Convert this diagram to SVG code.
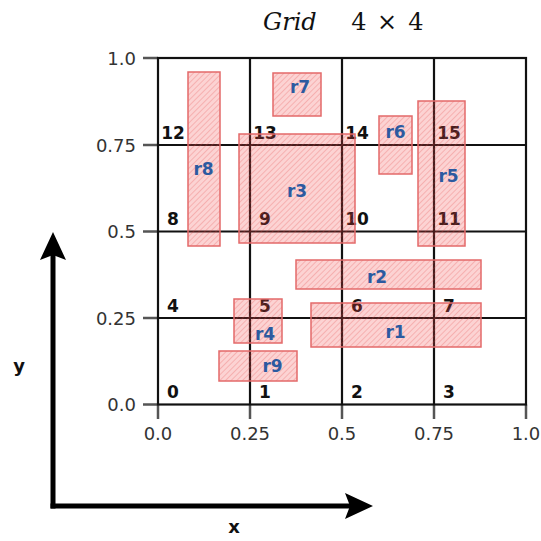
<svg xmlns="http://www.w3.org/2000/svg" width="541" height="541" viewBox="0 0 541 541">
<style>
.tick{stroke:#555;stroke-width:2.5}
.grid{stroke:#111;stroke-width:2.2;fill:none}
.tl{font-family:"DejaVu Sans",sans-serif;font-size:18px;fill:#333}
.num{font-family:"DejaVu Sans",sans-serif;font-size:17px;font-weight:bold;fill:#111;text-anchor:middle}
.reg{fill:url(#hatch);stroke:#e36a6a;stroke-width:1.5}
.rl{font-family:"DejaVu Sans",sans-serif;font-size:17px;font-weight:bold;fill:#2c5aa0;text-anchor:middle}
.ax{stroke:#000;stroke-width:5;fill:none}
.axl{font-family:"DejaVu Sans",sans-serif;font-size:18px;font-weight:bold;fill:#111;text-anchor:middle}
.tt{font-family:"DejaVu Serif",serif;font-size:24px;fill:#111}
</style>
<defs>
<pattern id="hatch" patternUnits="userSpaceOnUse" width="4" height="4" patternTransform="rotate(45)">
<rect width="4" height="4" fill="#f04848" fill-opacity="0.24"/>
<line x1="0" y1="0" x2="0" y2="4" stroke="#e04040" stroke-opacity="0.35" stroke-width="1.4"/>
</pattern>
<marker id="arr" viewBox="0 0 28 26" refX="5" refY="13" markerWidth="28" markerHeight="26" markerUnits="userSpaceOnUse" orient="auto">
<path d="M0,0 L28,13 L0,26 L5,13 z" fill="#000"/>
</marker>
</defs>
<rect width="541" height="541" fill="#fff"/>
<g id="title">
<text class="tt" x="263" y="30" font-size="29" font-style="italic">Grid</text>
<text class="tt" x="359" y="30" text-anchor="middle">4</text>
<text class="tt" x="387" y="30" text-anchor="middle">×</text>
<text class="tt" x="416" y="30" text-anchor="middle">4</text>
</g>
<g id="ticks">
<line class="tick" x1="143" y1="58" x2="158" y2="58"/>
<line class="tick" x1="143" y1="145" x2="158" y2="145"/>
<line class="tick" x1="143" y1="231.5" x2="158" y2="231.5"/>
<line class="tick" x1="143" y1="318" x2="158" y2="318"/>
<line class="tick" x1="143" y1="404.5" x2="158" y2="404.5"/>
<line class="tick" x1="158" y1="404.5" x2="158" y2="419"/>
<line class="tick" x1="250" y1="404.5" x2="250" y2="419"/>
<line class="tick" x1="342" y1="404.5" x2="342" y2="419"/>
<line class="tick" x1="434" y1="404.5" x2="434" y2="419"/>
<line class="tick" x1="526" y1="404.5" x2="526" y2="419"/>
<text class="tl" x="136" y="64.5" text-anchor="end">1.0</text>
<text class="tl" x="136" y="151.5" text-anchor="end">0.75</text>
<text class="tl" x="136" y="238" text-anchor="end">0.5</text>
<text class="tl" x="136" y="324.5" text-anchor="end">0.25</text>
<text class="tl" x="136" y="411" text-anchor="end">0.0</text>
<text class="tl" x="158" y="440" text-anchor="middle">0.0</text>
<text class="tl" x="250" y="440" text-anchor="middle">0.25</text>
<text class="tl" x="342" y="440" text-anchor="middle">0.5</text>
<text class="tl" x="434" y="440" text-anchor="middle">0.75</text>
<text class="tl" x="526" y="440" text-anchor="middle">1.0</text>
</g>
<g id="grid">
<rect class="grid" x="158" y="58" width="368" height="346.5"/>
<line class="grid" x1="250" y1="58" x2="250" y2="404.5"/>
<line class="grid" x1="342" y1="58" x2="342" y2="404.5"/>
<line class="grid" x1="434" y1="58" x2="434" y2="404.5"/>
<line class="grid" x1="158" y1="145" x2="526" y2="145"/>
<line class="grid" x1="158" y1="231.5" x2="526" y2="231.5"/>
<line class="grid" x1="158" y1="318" x2="526" y2="318"/>
</g>
<g id="cells">
<text class="num" x="173" y="398">0</text>
<text class="num" x="265" y="398">1</text>
<text class="num" x="357" y="398">2</text>
<text class="num" x="449" y="398">3</text>
<text class="num" x="173" y="312">4</text>
<text class="num" x="265" y="312">5</text>
<text class="num" x="357" y="312">6</text>
<text class="num" x="449" y="312">7</text>
<text class="num" x="173" y="225">8</text>
<text class="num" x="265" y="225">9</text>
<text class="num" x="357" y="225">10</text>
<text class="num" x="449" y="225">11</text>
<text class="num" x="173" y="139">12</text>
<text class="num" x="265" y="139">13</text>
<text class="num" x="357" y="139">14</text>
<text class="num" x="449" y="139">15</text>
</g>
<g id="r1"><rect class="reg" x="311" y="303" width="170" height="44"/><text class="rl" x="395.5" y="338">r1</text></g>
<g id="r2"><rect class="reg" x="296" y="260" width="185" height="29"/><text class="rl" x="377" y="282.5">r2</text></g>
<g id="r3"><rect class="reg" x="239" y="134" width="116" height="109"/><text class="rl" x="297" y="197">r3</text></g>
<g id="r4"><rect class="reg" x="234" y="299" width="48" height="44"/><text class="rl" x="265" y="340">r4</text></g>
<g id="r5"><rect class="reg" x="418" y="101" width="47" height="145"/><text class="rl" x="448.5" y="182">r5</text></g>
<g id="r6"><rect class="reg" x="379" y="116" width="33" height="58"/><text class="rl" x="395.5" y="138">r6</text></g>
<g id="r7"><rect class="reg" x="273" y="73" width="48" height="43"/><text class="rl" x="300" y="93">r7</text></g>
<g id="r8"><rect class="reg" x="188" y="72" width="32" height="174"/><text class="rl" x="203.5" y="175">r8</text></g>
<g id="r9"><rect class="reg" x="219" y="351" width="78" height="30"/><text class="rl" x="272.5" y="372">r9</text></g>
<g id="axes">
<path class="ax" d="M53,508.5 V255" marker-end="url(#arr)"/>
<path class="ax" d="M50.5,506 H350" marker-end="url(#arr)"/>
<text class="axl" x="19" y="372">y</text>
<text class="axl" x="234" y="533">x</text>
</g>
</svg>
